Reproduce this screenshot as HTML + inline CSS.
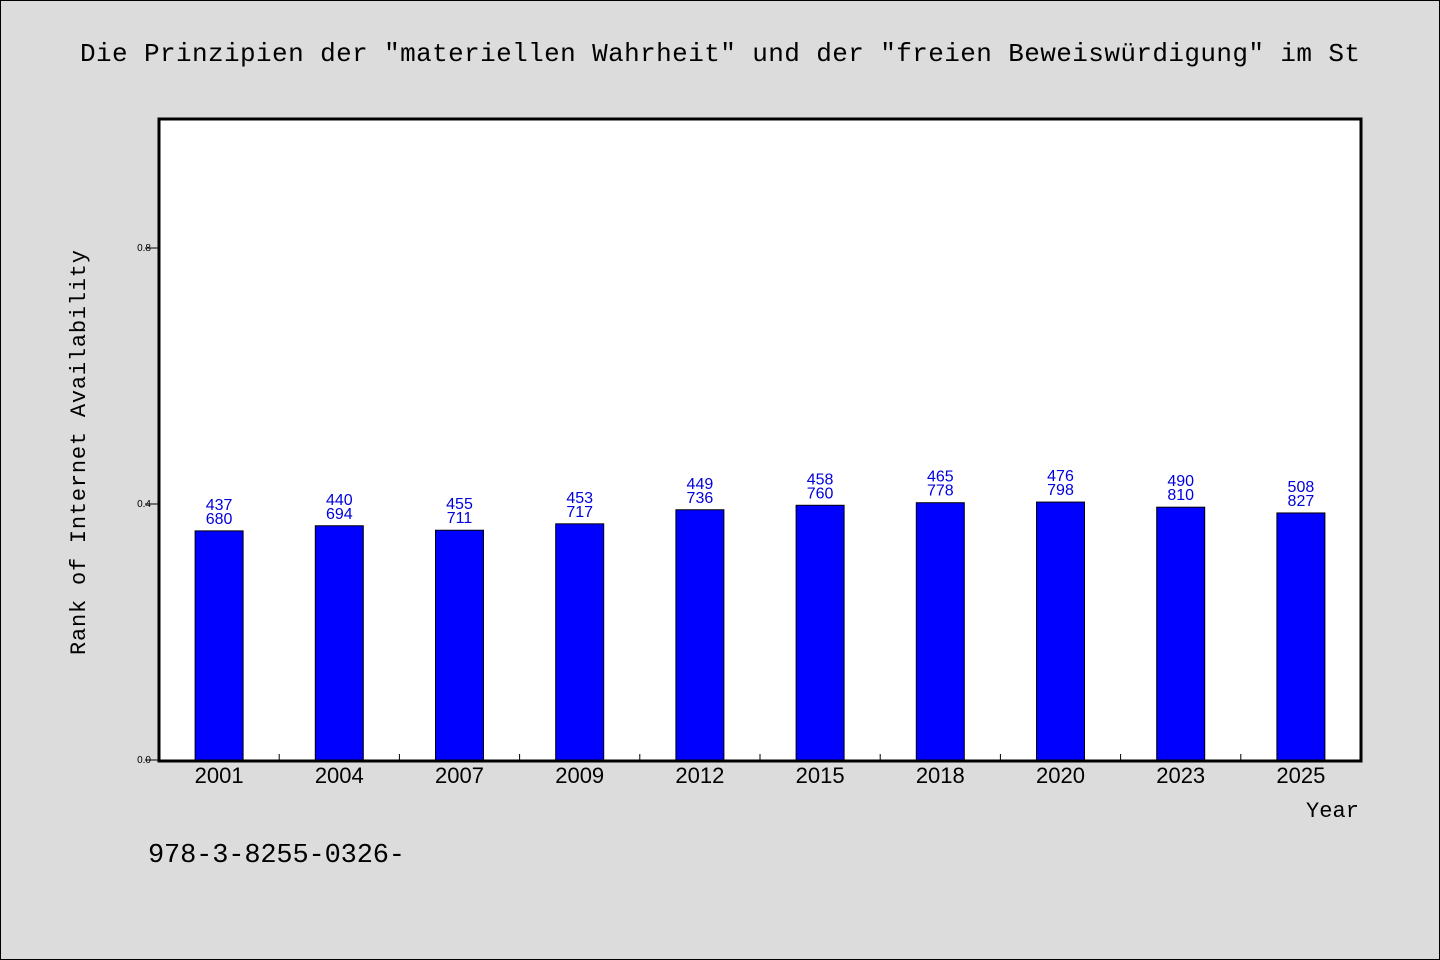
<!DOCTYPE html>
<html><head><meta charset="utf-8">
<style>
html,body{margin:0;padding:0;background:#dcdcdc;}
svg{display:block;}
text{font-family:"Liberation Sans",sans-serif;}
.mono{font-family:"Liberation Mono",monospace;}
</style></head>
<body>
<svg id="chart" width="1440" height="960">
  <rect x="0.5" y="0.5" width="1439" height="959" fill="#dcdcdc" stroke="#000"/>
  <text class="mono" x="80" y="61" font-size="26" textLength="1280" lengthAdjust="spacing" fill="#000">Die Prinzipien der "materiellen Wahrheit" und der "freien Beweiswürdigung" im St</text>
  <rect x="159" y="119" width="1202" height="642" fill="#fff"/>
  <g id="bars"></g>
  <g id="labels"></g>
  <g id="xticks"></g>
  <g id="yticks"></g>
  <rect x="159" y="119" width="1202" height="642" fill="none" stroke="#000" stroke-width="3"/>
  <text class="mono" x="1306" y="817" font-size="22" textLength="53" lengthAdjust="spacing" fill="#000">Year</text>
  <text class="mono" transform="translate(85,655) rotate(-90)" font-size="22" textLength="405" lengthAdjust="spacing" fill="#000">Rank of Internet Availability</text>
  <text class="mono" x="148" y="862" font-size="27" textLength="257" lengthAdjust="spacing" fill="#000">978-3-8255-0326-</text>
</svg>
<script>
const categories = ["2001","2004","2007","2009","2012","2015","2018","2020","2023","2025"];
const values = [0.358,0.366,0.359,0.369,0.391,0.398,0.402,0.403,0.395,0.386];
const labelTop = ["437","440","455","453","449","458","465","476","490","508"];
const labelBottom = ["680","694","711","717","736","760","778","798","810","827"];
const yTicks = [0.0,0.4,0.8];
const yTickLabels = ["0.0","0.4","0.8"];

const NS="http://www.w3.org/2000/svg";
const L=159,R=1361,T=120,B=760;
const band=(R-L)/categories.length;
const xc=i=>L+band*(i+0.5);
const y=v=>B-(v/1.0)*(B-T);
function mk(tag,attrs,parent){const e=document.createElementNS(NS,tag);for(const k in attrs)e.setAttribute(k,attrs[k]);parent.appendChild(e);return e;}
const gb=document.getElementById('bars'),gl=document.getElementById('labels'),gx=document.getElementById('xticks'),gy=document.getElementById('yticks');
categories.forEach((c,i)=>{
  const top=y(values[i]);
  const r=mk('rect',{x:xc(i)-24,y:top,width:48,height:B-top,fill:'#0000ff',stroke:'#000','stroke-width':1},gb);
  
  
  const t1=mk('text',{x:xc(i),y:top-21,'text-anchor':'middle','font-size':16,fill:'#0000dd'},gl);
  t1.textContent=labelTop[i];
  
  
  const t2=mk('text',{x:xc(i),y:top-7,'text-anchor':'middle','font-size':16,fill:'#0000dd'},gl);
  t2.textContent=labelBottom[i];
  
  
  const xt=mk('text',{x:xc(i),y:783,'text-anchor':'middle','font-size':22,fill:'#000'},gx);
  xt.textContent=c;
  
  
  if(i>0){
    const tk=mk('line',{x1:L+band*i,x2:L+band*i,y1:B,y2:B-6,stroke:'#000','stroke-width':1},gx);
    
    
  }
});
yTicks.forEach((v,i)=>{
  const ln=mk('line',{x1:L-14,x2:L,y1:y(v),y2:y(v),stroke:'#000','stroke-width':1},gy);
  
  
  const t=mk('text',{x:L-8,y:y(v)+3,'text-anchor':'end','font-size':10,fill:'#000'},gy);
  t.textContent=yTickLabels[i];
  
  
});
</script>
</body></html>
